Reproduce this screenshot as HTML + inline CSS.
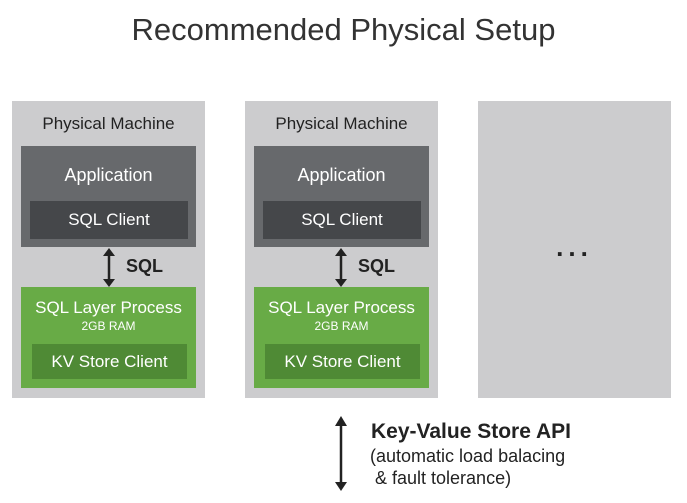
<!DOCTYPE html>
<html><head><style>
body{margin:0;width:687px;height:503px;background:#fff;font-family:"Liberation Sans",sans-serif;position:relative;overflow:hidden}
.a{position:absolute}
.m{background:#ccccce}
.t{text-align:center;color:#fff}
</style></head><body>
<div class="a" style="left:0;top:12px;width:687px;text-align:center;font-size:31px;color:#333">Recommended Physical Setup</div>

<div class="a m" style="left:12px;top:101px;width:193px;height:297px"></div>
<div class="a m" style="left:245px;top:101px;width:193px;height:297px"></div>
<div class="a m" style="left:478px;top:101px;width:193px;height:297px"></div>
<div class="a" style="left:478px;top:232px;width:193px;text-align:center;font-size:26px;color:#222;letter-spacing:5px;font-weight:bold">...</div>

<!-- machine 1 -->
<div class="a" style="left:12px;top:114px;width:193px;text-align:center;font-size:17px;color:#222">Physical Machine</div>
<div class="a" style="left:21px;top:146px;width:175px;height:101px;background:#67696c"></div>
<div class="a t" style="left:21px;top:165px;width:175px;font-size:18px">Application</div>
<div class="a t" style="left:30px;top:201px;width:158px;height:38px;line-height:38px;background:#45474a;font-size:17px">SQL Client</div>
<div class="a" style="left:21px;top:287px;width:175px;height:101px;background:#68ab46"></div>
<div class="a t" style="left:21px;top:298px;width:175px;font-size:17px">SQL Layer Process</div>
<div class="a t" style="left:21px;top:319px;width:175px;font-size:12px">2GB RAM</div>
<div class="a t" style="left:32px;top:344px;width:155px;height:35px;line-height:35px;background:#4f8a35;font-size:17px">KV Store Client</div>
<div class="a" style="left:126px;top:256px;font-size:18px;color:#222;font-weight:bold">SQL</div>

<!-- machine 2 -->
<div class="a" style="left:245px;top:114px;width:193px;text-align:center;font-size:17px;color:#222">Physical Machine</div>
<div class="a" style="left:254px;top:146px;width:175px;height:101px;background:#67696c"></div>
<div class="a t" style="left:254px;top:165px;width:175px;font-size:18px">Application</div>
<div class="a t" style="left:263px;top:201px;width:158px;height:38px;line-height:38px;background:#45474a;font-size:17px">SQL Client</div>
<div class="a" style="left:254px;top:287px;width:175px;height:101px;background:#68ab46"></div>
<div class="a t" style="left:254px;top:298px;width:175px;font-size:17px">SQL Layer Process</div>
<div class="a t" style="left:254px;top:319px;width:175px;font-size:12px">2GB RAM</div>
<div class="a t" style="left:265px;top:344px;width:155px;height:35px;line-height:35px;background:#4f8a35;font-size:17px">KV Store Client</div>
<div class="a" style="left:358px;top:256px;font-size:18px;color:#222;font-weight:bold">SQL</div>

<svg class="a" style="left:0;top:0" width="687" height="503">
<g stroke="#222" stroke-width="2.5" fill="#222">
<line x1="109" y1="254" x2="109" y2="281"/>
<polygon points="103,256 109,248 115,256" stroke="none"/>
<polygon points="103,279 109,287 115,279" stroke="none"/>
<line x1="341" y1="254" x2="341" y2="281"/>
<polygon points="335,256 341,248 347,256" stroke="none"/>
<polygon points="335,279 341,287 347,279" stroke="none"/>
<line x1="341" y1="424" x2="341" y2="484"/>
<polygon points="335,426 341,416 347,426" stroke="none"/>
<polygon points="335,482 341,491 347,482" stroke="none"/>
</g>
</svg>
<div class="a" style="left:371px;top:420px;font-size:21px;color:#222;font-weight:bold">Key-Value Store API</div>
<div class="a" style="left:370px;top:445px;font-size:18px;color:#222;line-height:22px">(automatic load balacing<br>&nbsp;&amp; fault tolerance)</div>
</body></html>
